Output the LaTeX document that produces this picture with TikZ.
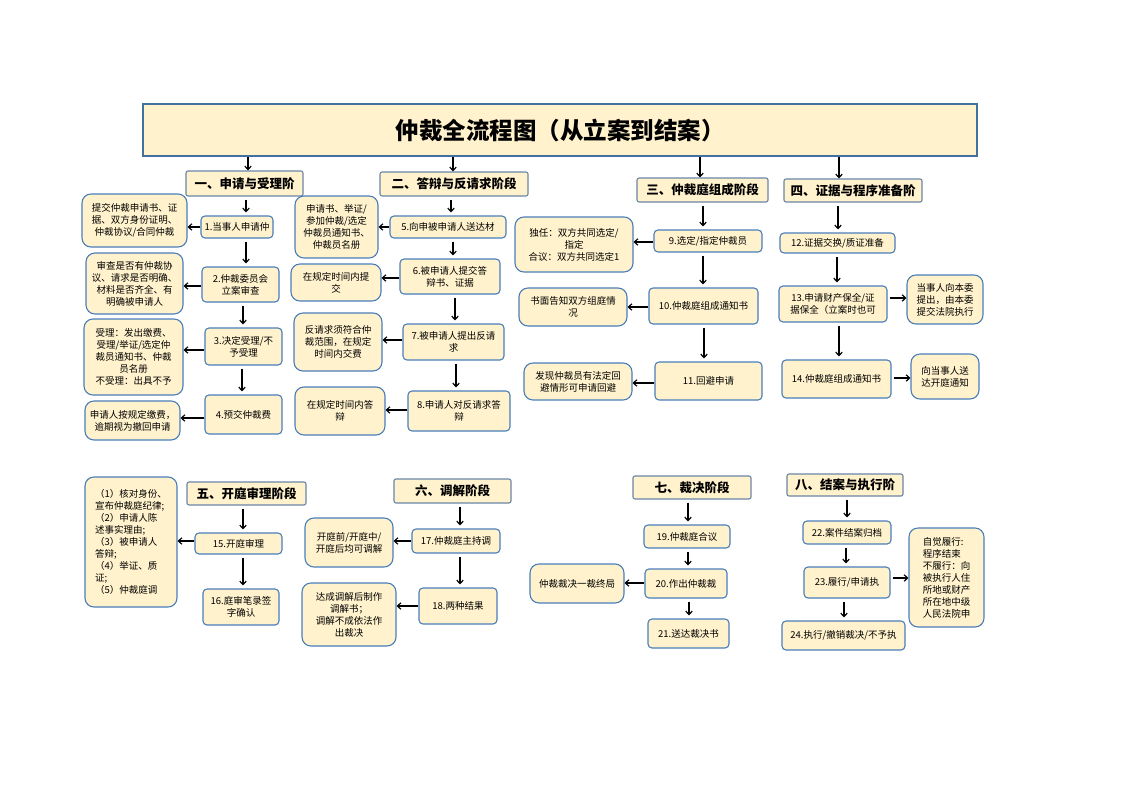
\documentclass[tikz,border=0pt]{standalone}
\usepackage{fontspec}
\setmainfont{Noto Sans CJK SC}
\usetikzlibrary{arrows.meta}
\definecolor{cream}{HTML}{FFF2CC}
\definecolor{bluebd}{HTML}{4A7EBB}
\definecolor{titlebd}{HTML}{41719C}
\definecolor{headbd}{HTML}{6A86A8}
\begin{document}
\begin{tikzpicture}[x=1pt,y=-1pt,
  sz/.style 2 args={minimum width=#1pt,minimum height=#2pt},
  box/.style={draw=bluebd,fill=cream,line width=1.1pt,rounded corners=4pt,align=center,inner sep=1pt,font=\fontsize{9.5}{12}\selectfont},
  note/.style={box,rounded corners=9pt},
  head/.style={draw=headbd,fill=cream,line width=1.1pt,rounded corners=2pt,inner sep=1pt,font=\fontsize{12.5}{14}\selectfont\bfseries},
  arr/.style={-{Straight Barb[length=3.5pt,width=6.5pt]},line width=1.2pt,black},
  varr/.style={arr,shorten <=3pt,shorten >=3pt},
]
\useasboundingbox (0,0) rectangle (1122,793);

% title
\node[draw=titlebd,fill=cream,line width=2.6pt,sz={834}{52},font=\fontsize{23.5}{26}\selectfont\bfseries] (title) at (560,130) {仲裁全流程图（从立案到结案）};

% headers
\node[head,sz={117}{25}] (h1) at (244.5,183.5) {一、申请与受理阶};
\node[head,sz={148}{24}] (h2) at (454,184) {二、答辩与反请求阶段};
\node[head,sz={131}{24}] (h3) at (702.5,190) {三、仲裁庭组成阶段};
\node[head,sz={138}{23}] (h4) at (853,190.5) {四、证据与程序准备阶};
\node[head,sz={119}{23}] (h5) at (246.5,493.5) {五、开庭审理阶段};
\node[head,sz={117}{24}] (h6) at (452.5,491) {六、调解阶段};
\node[head,sz={118}{23}] (h7) at (692,487.5) {七、裁决阶段};
\node[head,sz={116}{22}] (h8) at (845,485) {八、结案与执行阶};

% section 1
\node[box,sz={72}{22}] (b1) at (237,227) {1.当事人申请仲};
\node[box,sz={77}{35}] (b2) at (240.5,284.5) {2.仲裁委员会\\立案审查};
\node[box,sz={77}{37}] (b3) at (243.5,346.5) {3.决定受理/不\\予受理};
\node[box,sz={77}{39}] (b4) at (243.5,414.5) {4.预交仲裁费};
\node[note,sz={105}{53}] (n1) at (134.5,220.5) {提交仲裁申请书、证\\据、双方身份证明、\\仲裁协议/合同仲裁};
\node[note,sz={97}{61}] (n2) at (134.5,283.5) {审查是否有仲裁协\\议、请求是否明确、\\材料是否齐全、有\\明确被申请人};
\node[note,sz={99}{76}] (n3) at (133.5,357) {受理：发出缴费、\\受理/举证/选定仲\\裁员通知书、仲裁\\员名册\\不受理：出具不予};
\node[note,sz={95}{39}] (n4) at (132.5,420.5) {申请人按规定缴费，\\逾期视为撤回申请};

% section 2
\node[box,sz={116}{22}] (b5) at (448,227) {5.向申被申请人送达材};
\node[box,sz={100}{35}] (b6) at (450,276.5) {6.被申请人提交答\\辩书、证据};
\node[box,sz={101}{36}] (b7) at (453.5,342) {7.被申请人提出反请\\求};
\node[box,sz={102}{40}] (b8) at (459,411) {8.申请人对反请求答\\辩};
\node[note,sz={83}{62}] (n5) at (336.5,227) {申请书、举证/\\参加仲裁/选定\\仲裁员通知书、\\仲裁员名册};
\node[note,sz={90}{37}] (n6) at (336,282.5) {在规定时间内提\\交};
\node[note,sz={88}{58}] (n7) at (338,342) {反请求须符合仲\\裁范围，在规定\\时间内交费};
\node[note,sz={90}{48}] (n8) at (340,411) {在规定时间内答\\辩};

% section 3
\node[box,sz={108}{22}] (b9) at (708,241) {9.选定/指定仲裁员};
\node[box,sz={109}{36}] (b10) at (703.5,306) {10.仲裁庭组成通知书};
\node[box,sz={107}{38}] (b11) at (708.5,381) {11.回避申请};
\node[note,sz={118}{55}] (n9) at (574,244.5) {独任：双方共同选定/\\指定\\合议：双方共同选定1};
\node[note,sz={108}{38}] (n10) at (573,307) {书面告知双方组庭情\\况};
\node[note,sz={108}{37}] (n11) at (578,381.5) {发现仲裁员有法定回\\避情形可申请回避};

% section 4
\node[box,sz={115}{20}] (b12) at (837.5,243) {12.证据交换/质证准备};
\node[box,sz={108}{36}] (b13) at (833,304) {13.申请财产保全/证\\据保全（立案时也可};
\node[box,sz={109}{38}] (b14) at (836.5,379) {14.仲裁庭组成通知书};
\node[note,sz={76}{49}] (n13) at (945,299.5) {当事人向本委\\提出，由本委\\提交法院执行};
\node[note,sz={68}{45}] (n14) at (945,376.5) {向当事人送\\达开庭通知};

% section 5
\node[box,sz={87}{21}] (b15) at (238.5,543.5) {15.开庭审理};
\node[box,sz={76}{36}] (b16) at (241,607) {16.庭审笔录签\\字确认};
\node[note,sz={92}{130},align=left] (n15) at (131,542) {（1）核对身份、\\宣布仲裁庭纪律;\\（2）申请人陈\\述事实理由;\\（3）被申请人\\答辩;\\（4）举证、质\\证;\\（5）仲裁庭调};

% section 6
\node[box,sz={88}{24}] (b17) at (456,541) {17.仲裁庭主持调};
\node[box,sz={78}{36}] (b18) at (458,606) {18.两种结果};
\node[note,sz={88}{49}] (n17) at (349,542.5) {开庭前/开庭中/\\开庭后均可调解};
\node[note,sz={94}{63}] (n18) at (349,614.5) {达成调解后制作\\调解书；\\调解不成依法作\\出裁决};

% section 7
\node[box,sz={86}{23}] (b19) at (687,536.5) {19.仲裁庭合议};
\node[box,sz={82}{29}] (b20) at (686,583.5) {20.作出仲裁裁};
\node[box,sz={81}{29}] (b21) at (688.5,633.5) {21.送达裁决书};
\node[note,sz={94}{39}] (n20) at (577,583.5) {仲裁裁决一裁终局};

% section 8
\node[box,sz={88}{23}] (b22) at (847,532.5) {22.案件结案归档};
\node[box,sz={86}{31}] (b23) at (847,582.5) {23.履行/申请执};
\node[box,sz={123}{29}] (b24) at (843.5,635.5) {24.执行/撤销裁决/不予执};
\node[note,sz={75}{99},align=left] (n23) at (946.5,577.5) {自觉履行:\\程序结束\\不履行：向\\被执行人住\\所地或财产\\所在地中级\\人民法院申};

% title arrows
\draw[arr] (title.south -| 248,0) -- (h1.north -| 248,0);
\draw[arr] (title.south -| 453,0) -- (h2.north -| 453,0);
\draw[arr] (title.south -| 700,0) -- (h3.north -| 700,0);
\draw[arr] (title.south -| 839,0) -- (h4.north -| 839,0);

% vertical arrows
\draw[varr] (h1.south -| 246,0) -- (b1.north -| 246,0);
\draw[varr] (b1.south -| 246,0) -- (b2.north -| 246,0);
\draw[varr] (b2.south -| 243,0) -- (b3.north -| 243,0);
\draw[varr] (b3.south -| 242,0) -- (b4.north -| 242,0);

\draw[varr] (h2.south -| 451,0) -- (b5.north -| 451,0);
\draw[varr] (b5.south -| 453,0) -- (b6.north -| 453,0);
\draw[varr] (b6.south -| 455,0) -- (b7.north -| 455,0);
\draw[varr] (b7.south -| 456,0) -- (b8.north -| 456,0);

\draw[varr] (h3.south -| 703,0) -- (b9.north -| 703,0);
\draw[varr] (b9.south -| 703,0) -- (b10.north -| 703,0);
\draw[varr] (b10.south -| 704,0) -- (b11.north -| 704,0);

\draw[varr] (h4.south -| 838,0) -- (b12.north -| 838,0);
\draw[varr] (b12.south -| 837,0) -- (b13.north -| 837,0);
\draw[varr] (b13.south -| 839,0) -- (b14.north -| 839,0);

\draw[varr] (h5.south -| 243,0) -- (b15.north -| 243,0);
\draw[varr] (b15.south -| 243,0) -- (b16.north -| 243,0);

\draw[varr] (h6.south -| 460,0) -- (b17.north -| 460,0);
\draw[varr] (b17.south -| 460,0) -- (b18.north -| 460,0);

\draw[varr] (h7.south -| 688,0) -- (b19.north -| 688,0);
\draw[varr] (b19.south -| 688,0) -- (b20.north -| 688,0);
\draw[varr] (b20.south -| 689,0) -- (b21.north -| 689,0);

\draw[varr] (h8.south -| 847,0) -- (b22.north -| 847,0);
\draw[varr] (b22.south -| 846,0) -- (b23.north -| 846,0);
\draw[varr] (b23.south -| 844,0) -- (b24.north -| 844,0);

% horizontal arrows
\draw[arr] (b1.west |- 0,227) -- (n1.east |- 0,227);
\draw[arr] (b2.west |- 0,286) -- (n2.east |- 0,286);
\draw[arr] (b3.west |- 0,350) -- (n3.east |- 0,350);
\draw[arr] (b4.west |- 0,418) -- (n4.east |- 0,418);

\draw[arr] (b5.west |- 0,227) -- (n5.east |- 0,227);
\draw[arr] (b6.west |- 0,278) -- (n6.east |- 0,278);
\draw[arr] (b7.west |- 0,340) -- (n7.east |- 0,340);
\draw[arr] (b8.west |- 0,410) -- (n8.east |- 0,410);

\draw[arr] (b9.west |- 0,242) -- (n9.east |- 0,242);
\draw[arr] (b10.west |- 0,307) -- (n10.east |- 0,307);
\draw[arr] (b11.west |- 0,383) -- (n11.east |- 0,383);

\draw[arr,shorten <=2pt] (b13.east |- 0,298) -- (n13.west |- 0,298);
\draw[arr,shorten <=2pt] (b14.east |- 0,378) -- (n14.west |- 0,378);

\draw[arr] (b15.west |- 0,541) -- (n15.east |- 0,541);
\draw[arr] (b17.west |- 0,541) -- (n17.east |- 0,541);
\draw[arr] (b18.west |- 0,606) -- (n18.east |- 0,606);
\draw[arr] (b20.west |- 0,583) -- (n20.east |- 0,583);
\draw[arr,shorten <=2pt] (b23.east |- 0,578) -- (n23.west |- 0,578);
\end{tikzpicture}
\end{document}
